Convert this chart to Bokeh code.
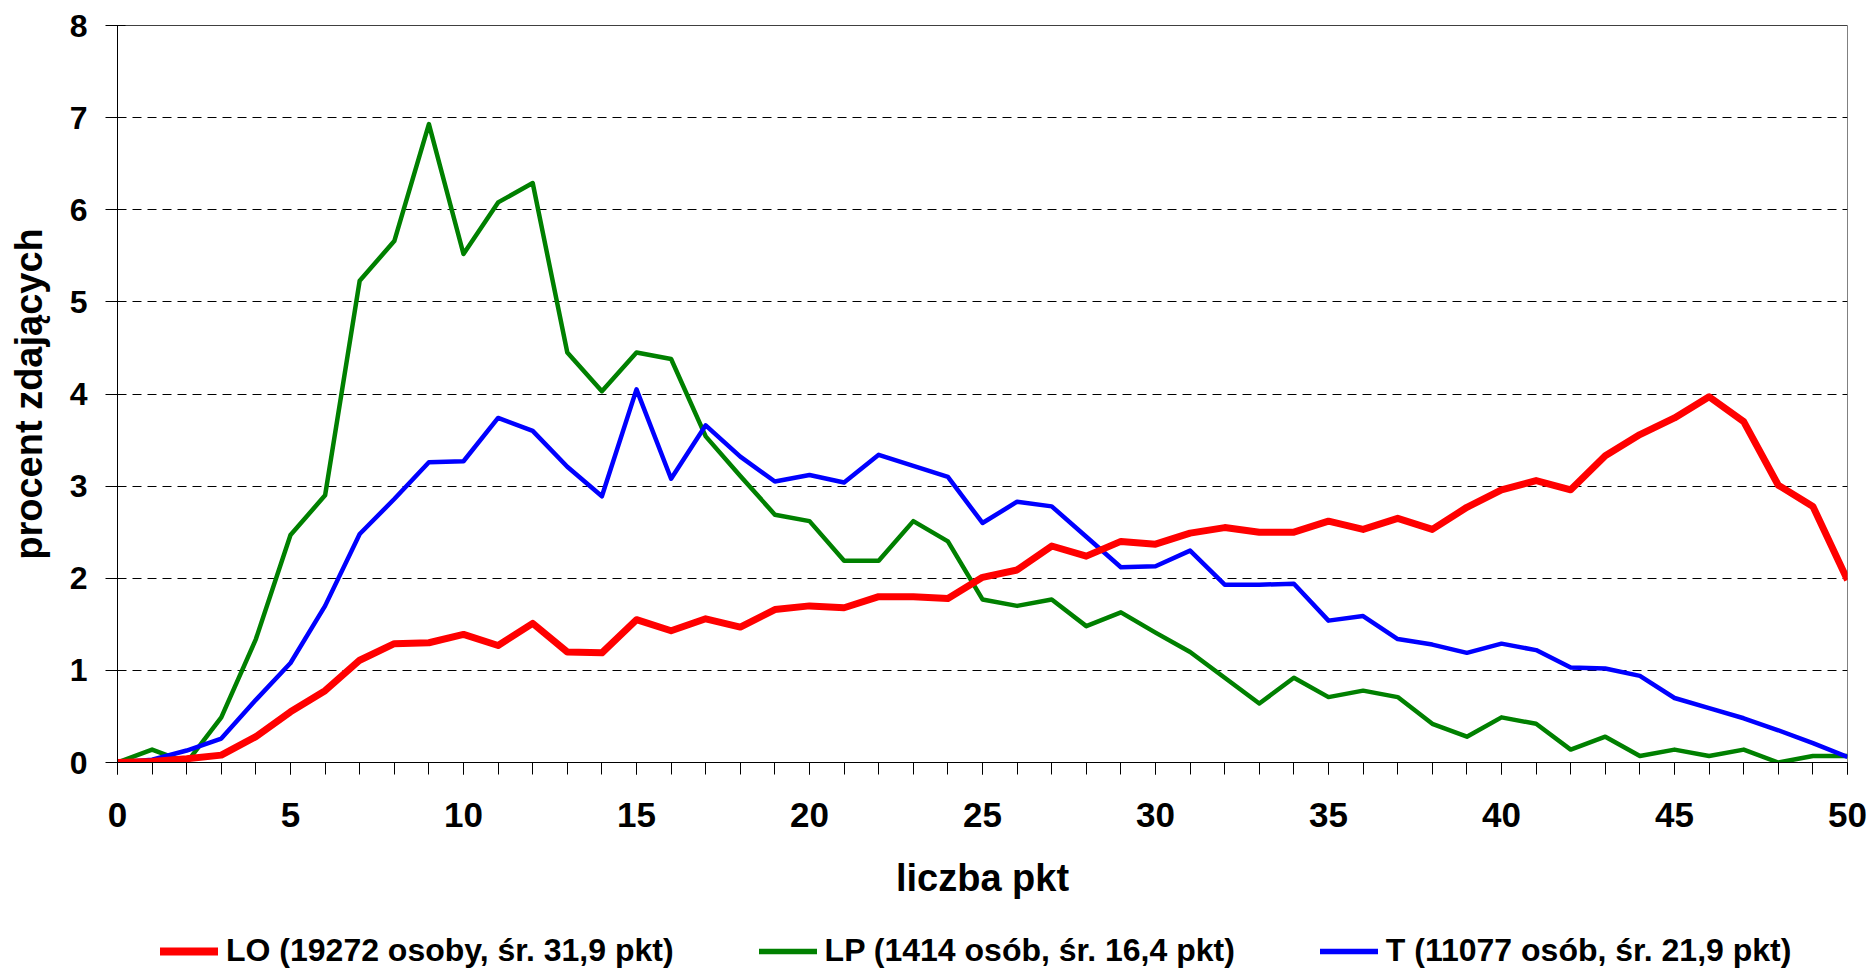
from bokeh.plotting import figure
from bokeh.layouts import column
from bokeh.models import Range1d, FixedTicker, Legend, LegendItem, Span, ColumnDataSource
from bokeh.embed import file_html
from bokeh.resources import INLINE

points = list(range(51))

lo = [0.00, 0.01, 0.04, 0.08, 0.28, 0.55, 0.78, 1.11, 1.29, 1.30,
      1.39, 1.27, 1.51, 1.20, 1.19, 1.55, 1.43, 1.56, 1.47, 1.66,
      1.70, 1.68, 1.80, 1.80, 1.78, 2.01, 2.09, 2.35, 2.24, 2.40,
      2.37, 2.49, 2.55, 2.50, 2.50, 2.62, 2.53, 2.65, 2.53, 2.77,
      2.96, 3.06, 2.96, 3.33, 3.56, 3.74, 3.97, 3.70, 3.01, 2.78,
      1.98]

lp = [0.00, 0.14, 0.00, 0.49, 1.34, 2.47, 2.90, 5.23, 5.66, 6.93,
      5.52, 6.08, 6.29, 4.45, 4.03, 4.45, 4.38, 3.54, 3.11, 2.69,
      2.62, 2.19, 2.19, 2.62, 2.40, 1.77, 1.70, 1.77, 1.48, 1.63,
      1.41, 1.20, 0.92, 0.64, 0.92, 0.71, 0.78, 0.71, 0.42, 0.28,
      0.49, 0.42, 0.14, 0.28, 0.07, 0.14, 0.07, 0.14, 0.00, 0.07,
      0.07]

t = [0.00, 0.03, 0.13, 0.26, 0.68, 1.08, 1.70, 2.48, 2.86, 3.26,
     3.27, 3.74, 3.60, 3.21, 2.89, 4.05, 3.08, 3.66, 3.32, 3.05,
     3.12, 3.04, 3.34, 3.22, 3.10, 2.60, 2.83, 2.78, 2.45, 2.12,
     2.13, 2.30, 1.93, 1.93, 1.94, 1.54, 1.59, 1.34, 1.28, 1.19,
     1.29, 1.22, 1.03, 1.02, 0.94, 0.70, 0.59, 0.48, 0.35, 0.21,
     0.06]

series_labels = ["LO (19272 osoby, śr. 31,9 pkt)",
                 "LP (1414 osób, śr. 16,4 pkt)",
                 "T (11077 osób, śr. 21,9 pkt)"]
series_keys = ["lo", "lp", "t"]
series_colors = ["#FF0000", "#008000", "#0000FF"]
series_widths = [7, 4.5, 4.5]
x_ticks = [0, 5, 10, 15, 20, 25, 30, 35, 40, 45, 50]
y_ticks = [0, 1, 2, 3, 4, 5, 6, 7, 8]
x_title = "liczba pkt"
y_title = "procent zdających"

FONT = "Liberation Sans"

src = ColumnDataSource(dict(x=points, lo=lo, lp=lp, t=t))

p = figure(width=1872, height=921, output_backend="svg", toolbar_location=None,
           x_range=Range1d(0, 50), y_range=Range1d(0, 8),
           min_border_left=117, min_border_right=25,
           min_border_top=25, min_border_bottom=159)
p.background_fill_color = "white"
p.border_fill_color = "white"
p.outline_line_color = "#808080"
p.outline_line_width = 1

# grid
p.xgrid.visible = False
p.ygrid.ticker = FixedTicker(ticks=y_ticks[1:-1])
p.ygrid.grid_line_color = "black"
p.ygrid.grid_line_width = 1
p.ygrid.grid_line_dash = "9 6"
p.add_layout(Span(location=8, dimension="width", line_color="black", line_width=1))

# x axis
xa = p.xaxis[0]
xa.ticker = FixedTicker(ticks=x_ticks, minor_ticks=points)
xa.axis_line_color = "black"
xa.axis_line_width = 1
xa.major_tick_line_color = "black"
xa.minor_tick_line_color = "black"
xa.major_tick_in = 0
xa.major_tick_out = 12
xa.minor_tick_in = 0
xa.minor_tick_out = 12
xa.major_label_text_font = FONT
xa.major_label_text_font_style = "bold"
xa.major_label_text_font_size = "35px"
xa.major_label_text_color = "black"
xa.major_label_standoff = 28
xa.axis_label = x_title
xa.axis_label_text_font = FONT
xa.axis_label_text_font_style = "bold"
xa.axis_label_text_font_size = "38px"
xa.axis_label_text_color = "black"
xa.axis_label_standoff = 27

# y axis
ya = p.yaxis[0]
ya.ticker = FixedTicker(ticks=y_ticks, minor_ticks=[])
ya.axis_line_color = "black"
ya.axis_line_width = 1
ya.major_tick_line_color = "black"
ya.major_tick_in = 8
ya.major_tick_out = 12
ya.minor_tick_in = 0
ya.minor_tick_out = 0
ya.major_label_text_font = FONT
ya.major_label_text_font_style = "bold"
ya.major_label_text_font_size = "32px"
ya.major_label_text_color = "black"
ya.major_label_standoff = 18
ya.axis_label = y_title
ya.axis_label_text_font = FONT
ya.axis_label_text_font_style = "bold"
ya.axis_label_text_font_size = "38px"
ya.axis_label_text_color = "black"
ya.axis_label_standoff = 17

# draw order: LP, T, then LO on top
for i in [1, 2, 0]:
    p.line("x", series_keys[i], source=src, line_color=series_colors[i],
           line_width=series_widths[i], line_join="round")

# legend strip below the chart (its series lie outside its visible range)
pl = figure(width=1872, height=50, output_backend="svg", toolbar_location=None,
            x_axis_type=None, y_axis_type=None,
            x_range=Range1d(0, 50), y_range=Range1d(-20, -10),
            min_border_left=117, min_border_right=25,
            min_border_top=0, min_border_bottom=0)
pl.outline_line_color = None
pl.xgrid.visible = False
pl.ygrid.visible = False
pl.background_fill_color = "white"
pl.border_fill_color = "white"

items = []
for lab, key, col, lw in zip(series_labels, series_keys, series_colors, series_widths):
    r = pl.line("x", key, source=src, line_color=col, line_width=lw + 1, line_cap="round")
    items.append(LegendItem(label=lab, renderers=[r]))

legend = Legend(items=items, orientation="horizontal", location=(43, 2),
                padding=0, margin=0, spacing=85, glyph_width=58, glyph_height=20,
                label_standoff=8, border_line_color=None, background_fill_alpha=0,
                label_text_font=FONT, label_text_font_style="bold",
                label_text_font_size="32px", label_text_color="black")
pl.add_layout(legend)

open("out.html", "w").write(file_html(column(p, pl, spacing=0), INLINE))
